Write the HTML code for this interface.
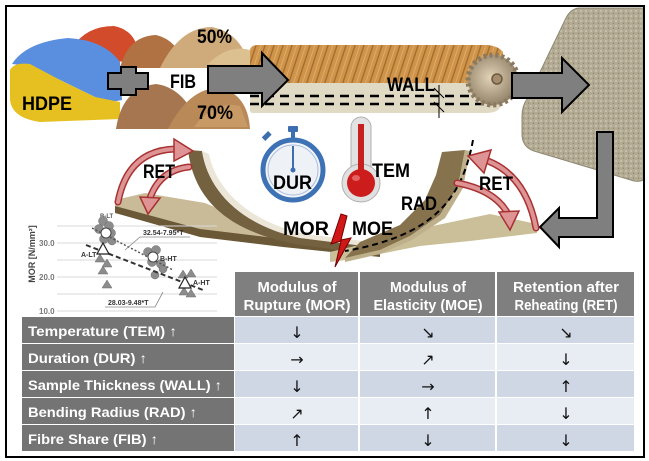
<!DOCTYPE html>
<html><head><meta charset="utf-8"><style>
html,body{margin:0;padding:0;background:#fff;}
svg{display:block;}
.b{font-family:"Liberation Sans",sans-serif;font-weight:bold;}
.ar{font-family:"DejaVu Sans","Liberation Sans",sans-serif;}
</style></head><body>
<svg width="649" height="461" viewBox="0 0 649 461" xmlns="http://www.w3.org/2000/svg">
<defs>
<pattern id="grain" width="9" height="40" patternUnits="userSpaceOnUse" patternTransform="skewX(-18)">
<rect width="9" height="40" fill="#cf944a"/><rect x="0" width="1.5" height="40" fill="#a36e30"/><rect x="5" width="1" height="40" fill="#deac6a"/></pattern>
<pattern id="speck" width="5" height="5" patternUnits="userSpaceOnUse">
<rect width="5" height="5" fill="#b2aa92"/><circle cx="1" cy="1" r="0.8" fill="#ddd8c6"/><circle cx="3.5" cy="3.2" r="0.6" fill="#857d66"/></pattern>
<radialGradient id="saw" cx="0.45" cy="0.45" r="0.6"><stop offset="0" stop-color="#e2d2b6"/><stop offset="1" stop-color="#8c7c62"/></radialGradient>
</defs>
<rect width="649" height="461" fill="#fff"/>

<!-- plate -->
<path d="M580,8 L644,8 L644,178 Q644,182 634,181 L534,151 Q522,147 522,134 L522,116 Q522,106 527,99 L566,18 Q571,8 580,8 Z" fill="url(#speck)" stroke="#8e8772" stroke-width="1"/>

<!-- HDPE pellets -->
<path d="M72,48 Q86,26 114,26 Q134,30 138,50 L132,62 L86,60 Z" fill="#d24b2a"/>
<path d="M12,64 Q26,42 68,38 Q104,40 120,62 L122,100 Q106,104 95,97 L60,80 L30,66 Z" fill="#5a8fe0"/>
<path d="M10,70 Q14,62 30,64 L60,80 L95,97 L120,102 L120,119 L40,122 Q12,118 10,100 Z" fill="#e6c020"/>

<!-- fibres -->
<path d="M120,68 Q128,36 156,35 Q178,40 186,68 Z" fill="#b07243"/>
<path d="M160,68 Q180,27 212,27 Q242,33 250,68 Z" fill="#cfab7b"/>
<path d="M208,64 Q228,44 250,50 L250,68 Z" fill="#dcc090"/>
<path d="M116,129 Q122,88 156,84 Q186,88 200,129 Z" fill="#a57650"/>
<path d="M168,129 Q190,86 222,88 Q248,96 250,129 Z" fill="#b98a58"/>
<path d="M194,127 Q214,100 240,106 L248,127 Z" fill="#c89a66"/>

<!-- plus -->
<path d="M121,67 L136,67 L136,73 L148,73 L148,89 L136,89 L136,95 L121,95 L121,89 L108,89 L108,73 L121,73 Z" fill="#7f7f7f" stroke="#000" stroke-width="2"/>

<!-- wood board -->
<path d="M250,49 Q252,45 258,45 L488,45 Q498,46 503,52 L502,83 L250,83 Z" fill="url(#grain)"/>
<path d="M250,83 L505,83 Q507,100 498,110 Q494,113 485,113 L253,113 Q250,113 250,110 Z" fill="#e0d9c3"/>
<line x1="250" y1="96" x2="495" y2="96" stroke="#000" stroke-width="2.5" stroke-dasharray="9,6"/>
<line x1="250" y1="104" x2="495" y2="104" stroke="#000" stroke-width="2.5" stroke-dasharray="9,6"/>
<line x1="439" y1="85" x2="439" y2="118" stroke="#000" stroke-width="1"/>
<path d="M434,88 L444,98 M434,102 L444,112" stroke="#000" stroke-width="1"/>

<!-- saw -->
<circle cx="493" cy="80" r="25" fill="url(#saw)" stroke="#8a7a60" stroke-width="5" stroke-dasharray="3,3"/>
<circle cx="497" cy="79" r="5" fill="#a48c6c" stroke="#6a5a40" stroke-width="1.5"/>

<!-- arrows -->
<path d="M208,66 L262,66 L262,53 L288,80 L262,106 L262,93 L208,93 Z" fill="#7f7f7f" stroke="#000" stroke-width="2"/>
<path d="M512,73 L562,73 L562,58 L589,85 L562,112 L562,98 L512,98 Z" fill="#7f7f7f" stroke="#000" stroke-width="2"/>
<path d="M597,132 L613,132 L613,237 L559,237 L559,247 L540,227 L559,208 L559,218 L597,218 Z" fill="#7f7f7f" stroke="#000" stroke-width="2"/>

<!-- bent boards -->
<path d="M115,200 L145,193 L205,203 L250,222 L300,236 L380,246 L380,253 L283,242 L200,232 L115,209 Z" fill="#c9bb98"/>
<path d="M115,206 L200,229 L283,239 L380,250 L380,257 L283,247 L200,237 L115,213 Z" fill="#6a5836"/>
<path d="M188,150 L202,151 C208,190 240,225 300,238 L380,248 L380,255 L300,245 C228,232 194,200 188,150 Z" fill="#73613f"/>
<path d="M202,151 L209,154 C216,190 250,222 305,234 L380,243 L380,248 L300,238 C240,225 208,190 202,151 Z" fill="#ebe6d8"/>
<path d="M330,252 L380,240 L423,228 L490,214 L537,224 L537,233 L470,241 L420,246 L360,258 L330,262 Z" fill="#cbbf9a"/>
<path d="M442,152 L465,150 L458,186 L440,215 L410,236 L380,250 L345,258 L360,242 L400,225 L425,200 L436,175 Z" fill="#86724d"/>
<path d="M465,150 L470,151 L463,188 L445,218 L412,240 L380,254 L345,262 L345,258 L380,250 L410,236 L440,215 L458,186 Z" fill="#bdb08a"/>
<path d="M473,140 C462,200 432,236 345,251" fill="none" stroke="#000" stroke-width="2" stroke-dasharray="6,4"/>

<!-- RET arrows -->
<g fill="none" stroke-linecap="round">
<path d="M118,202 Q128,150 176,149" stroke="#a83232" stroke-width="7"/>
<path d="M118,202 Q128,150 176,149" stroke="#de9494" stroke-width="4"/>
<path d="M189,167 Q160,170 150,198" stroke="#a83232" stroke-width="7"/>
<path d="M189,167 Q160,170 150,198" stroke="#de9494" stroke-width="4"/>
<path d="M536,228 Q526,176 488,161" stroke="#a83232" stroke-width="7"/>
<path d="M536,228 Q526,176 488,161" stroke="#de9494" stroke-width="4"/>
<path d="M457,183 Q495,190 508,214" stroke="#a83232" stroke-width="7"/>
<path d="M457,183 Q495,190 508,214" stroke="#de9494" stroke-width="4"/>
</g>
<polygon points="174,139 193,151 174,161" fill="#de9494" stroke="#a83232" stroke-width="1.5"/>
<polygon points="140,197 160,198 148,214" fill="#de9494" stroke="#a83232" stroke-width="1.5"/>
<polygon points="468,156 491,150 484,173" fill="#de9494" stroke="#a83232" stroke-width="1.5"/>
<polygon points="499,212 519,211 510,230" fill="#de9494" stroke="#a83232" stroke-width="1.5"/>

<!-- stopwatch -->
<rect x="288" y="126" width="10" height="6" rx="1" fill="#3d6fb0"/>
<rect x="291" y="131" width="4" height="8" fill="#3d6fb0"/>
<rect x="262" y="134" width="9" height="5" fill="#3d6fb0" transform="rotate(-45 266 136)"/>
<circle cx="293" cy="170" r="30" fill="#f2f4f8" stroke="#3d72b5" stroke-width="5"/>
<circle cx="293" cy="170" r="25" fill="#eef1f6" stroke="#a6bcdb" stroke-width="1"/>
<line x1="293" y1="170" x2="293" y2="146" stroke="#3d6fb0" stroke-width="2"/>
<circle cx="293" cy="170" r="2.5" fill="#3d6fb0"/>

<!-- thermometer -->
<rect x="351" y="117" width="20" height="62" rx="10" fill="#e2e2e2" stroke="#b0b0b0"/>
<circle cx="361" cy="183" r="19" fill="#e0e0e0" stroke="#b0b0b0"/>
<rect x="358" y="124" width="6" height="52" fill="#c82020"/>
<circle cx="361" cy="183" r="14" fill="#cc1c1c"/>
<ellipse cx="356" cy="178" rx="4" ry="3" fill="#f08080" opacity=".7"/>

<!-- lightning -->
<polygon points="341,214 331,244 341,241 335,267 351,238 341,240 347,216" fill="#d01818" stroke="#700" stroke-width="1"/>

<!-- labels -->
<g class="b" fill="#000" font-size="19">
<text x="197" y="43" textLength="35" lengthAdjust="spacingAndGlyphs">50%</text>
<text x="170" y="88" textLength="26" lengthAdjust="spacingAndGlyphs">FIB</text>
<text x="197" y="119" textLength="36" lengthAdjust="spacingAndGlyphs">70%</text>
<text x="22" y="110" textLength="50" lengthAdjust="spacingAndGlyphs">HDPE</text>
<text x="387" y="91" textLength="48" lengthAdjust="spacingAndGlyphs">WALL</text>
<text x="273" y="189" textLength="39" lengthAdjust="spacingAndGlyphs">DUR</text>
<text x="372" y="177" textLength="38" lengthAdjust="spacingAndGlyphs">TEM</text>
<text x="401" y="210" textLength="36" lengthAdjust="spacingAndGlyphs">RAD</text>
<text x="352" y="235" textLength="41" lengthAdjust="spacingAndGlyphs">MOE</text>
<text x="283" y="235" textLength="46" lengthAdjust="spacingAndGlyphs">MOR</text>
<text x="143" y="178" textLength="32" lengthAdjust="spacingAndGlyphs">RET</text>
<text x="479" y="190" textLength="34" lengthAdjust="spacingAndGlyphs">RET</text>
</g>

<!-- graph -->
<g stroke="#d9d9d9" stroke-width="1">
<line x1="57" y1="226" x2="217" y2="226"/><line x1="57" y1="243" x2="217" y2="243"/>
<line x1="57" y1="260" x2="217" y2="260"/><line x1="57" y1="277" x2="217" y2="277"/>
<line x1="57" y1="294" x2="217" y2="294"/><line x1="57" y1="311" x2="217" y2="311"/>
</g>
<g class="b" font-size="8" fill="#777">
<text x="39" y="246">30.0</text><text x="39" y="280">20.0</text><text x="39" y="314">10.0</text>
</g>
<text class="b" font-size="9" fill="#444" transform="translate(35,254) rotate(-90)" text-anchor="middle">MOR [N/mm²]</text>
<text class="b" font-size="6" fill="#555" x="100" y="218">B-LT</text>
<g fill="#8c8c8c" stroke="#6e6e6e" stroke-width="0.5">
<circle cx="103" cy="221" r="4.5"/><circle cx="109" cy="226" r="4.5"/><circle cx="99" cy="229" r="4.5"/>
<circle cx="111" cy="233" r="4.5"/><circle cx="104" cy="239" r="4.5"/><circle cx="112" cy="241" r="4"/>
<circle cx="148" cy="252" r="4.5"/><circle cx="156" cy="250" r="4.5"/><circle cx="152" cy="262" r="4.5"/>
<circle cx="161" cy="264" r="4.5"/><circle cx="163" cy="269" r="4"/><circle cx="155" cy="275" r="4"/>
<polygon points="100,254 105,262 95,262"/><polygon points="107,259 112,267 102,267"/>
<polygon points="103,266 108,274 98,274"/><polygon points="107,280 112,288 102,288"/>
<polygon points="183,270 188,278 178,278"/><polygon points="191,269 196,277 186,277"/>
<polygon points="184,287 189,295 179,295"/><polygon points="191,289 196,297 186,297"/>
</g>
<line x1="92" y1="228" x2="173" y2="270" stroke="#555" stroke-width="1.5" stroke-dasharray="2,2"/>
<line x1="86" y1="245" x2="203" y2="290" stroke="#333" stroke-width="2" stroke-dasharray="5,3"/>
<circle cx="106" cy="233" r="5" fill="#fff" stroke="#444" stroke-width="1"/>
<circle cx="153" cy="257" r="5" fill="#fff" stroke="#444" stroke-width="1"/>
<polygon points="103,243 109,254 97,254" fill="#fff" stroke="#222" stroke-width="1.2"/>
<polygon points="185,277 191,288 179,288" fill="#fff" stroke="#222" stroke-width="1.2"/>
<path d="M125,250 L140,237 L190,237 M163,292 L155,307 L105,307" fill="none" stroke="#888" stroke-width="0.8"/>
<g class="b" font-size="7" fill="#333">
<text x="143" y="235">32.54-7.95*T</text>
<text x="108" y="305">28.03-9.48*T</text>
<text x="81" y="257">A-LT</text>
<text x="160" y="261">B-HT</text>
<text x="193" y="285">A-HT</text>
</g>

<!-- table header -->
<rect x="235" y="272" width="123" height="44" fill="#7f7f7f"/>
<rect x="360" y="272" width="135" height="44" fill="#7f7f7f"/>
<rect x="497" y="272" width="137" height="44" fill="#7f7f7f"/>
<g class="b" fill="#fff" font-size="15" text-anchor="middle">
<text x="297" y="292" textLength="79" lengthAdjust="spacingAndGlyphs">Modulus of</text>
<text x="297" y="310" textLength="107" lengthAdjust="spacingAndGlyphs">Rupture (MOR)</text>
<text x="428" y="292" textLength="76" lengthAdjust="spacingAndGlyphs">Modulus of</text>
<text x="428" y="310" textLength="109" lengthAdjust="spacingAndGlyphs">Elasticity (MOE)</text>
<text x="566" y="292" textLength="106" lengthAdjust="spacingAndGlyphs">Retention after</text>
<text x="566" y="310" textLength="103" lengthAdjust="spacingAndGlyphs">Reheating (RET)</text>
</g>

<!-- table rows -->
<g>
<rect x="22" y="317" width="212" height="26" fill="#747474"/>
<rect x="235" y="317" width="123" height="26" fill="#cfd7e5"/><rect x="360" y="317" width="135" height="26" fill="#cfd7e5"/><rect x="497" y="317" width="137" height="26" fill="#cfd7e5"/>
<rect x="22" y="344" width="212" height="26" fill="#747474"/>
<rect x="235" y="344" width="123" height="26" fill="#e8ecf3"/><rect x="360" y="344" width="135" height="26" fill="#e8ecf3"/><rect x="497" y="344" width="137" height="26" fill="#e8ecf3"/>
<rect x="22" y="371" width="212" height="26" fill="#747474"/>
<rect x="235" y="371" width="123" height="26" fill="#cfd7e5"/><rect x="360" y="371" width="135" height="26" fill="#cfd7e5"/><rect x="497" y="371" width="137" height="26" fill="#cfd7e5"/>
<rect x="22" y="398" width="212" height="26" fill="#747474"/>
<rect x="235" y="398" width="123" height="26" fill="#e8ecf3"/><rect x="360" y="398" width="135" height="26" fill="#e8ecf3"/><rect x="497" y="398" width="137" height="26" fill="#e8ecf3"/>
<rect x="22" y="425" width="212" height="26" fill="#747474"/>
<rect x="235" y="425" width="123" height="26" fill="#cfd7e5"/><rect x="360" y="425" width="135" height="26" fill="#cfd7e5"/><rect x="497" y="425" width="137" height="26" fill="#cfd7e5"/>
</g>
<g class="b" fill="#fff" font-size="14">
<text x="28" y="336" textLength="149" lengthAdjust="spacingAndGlyphs">Temperature  (TEM) ↑</text>
<text x="28" y="363" textLength="119" lengthAdjust="spacingAndGlyphs">Duration  (DUR) ↑</text>
<text x="28" y="390" textLength="194" lengthAdjust="spacingAndGlyphs">Sample Thickness (WALL) ↑</text>
<text x="28" y="417" textLength="169" lengthAdjust="spacingAndGlyphs">Bending Radius (RAD) ↑</text>
<text x="28" y="444" textLength="130" lengthAdjust="spacingAndGlyphs">Fibre Share (FIB) ↑</text>
</g>
<g class="ar" fill="#111" font-size="16" text-anchor="middle">
<text x="297" y="338">↓</text><text x="428" y="338">↘</text><text x="566" y="338">↘</text>
<text x="297" y="365">→</text><text x="428" y="365">↗</text><text x="566" y="365">↓</text>
<text x="297" y="392">↓</text><text x="428" y="392">→</text><text x="566" y="392">↑</text>
<text x="297" y="419">↗</text><text x="428" y="419">↑</text><text x="566" y="419">↓</text>
<text x="297" y="446">↑</text><text x="428" y="446">↓</text><text x="566" y="446">↓</text>
</g>

<!-- outer border -->
<rect x="6" y="6" width="638" height="451" fill="none" stroke="#000" stroke-width="2"/>
</svg>
</body></html>
